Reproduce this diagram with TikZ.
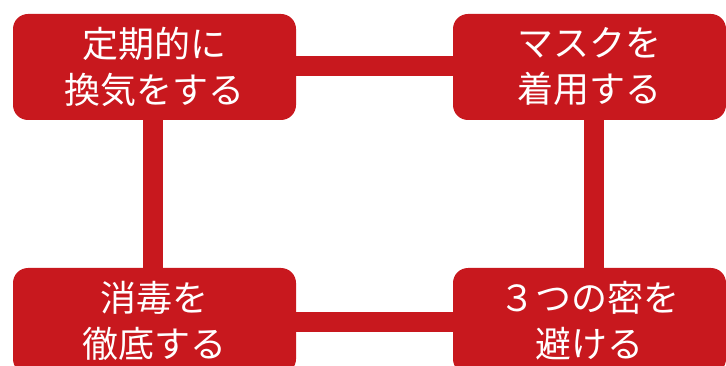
\documentclass[tikz,border=0pt]{standalone}
\usepackage{fontspec}
\newfontfamily\jpfont{Noto Sans CJK JP}
\usetikzlibrary{backgrounds}
\definecolor{boxred}{RGB}{200,24,30}
\tikzset{
  redbox/.style={fill=boxred, rounded corners=15pt, inner sep=0pt,
    text=white, align=center, font=\jpfont\fontsize{36pt}{46pt}\selectfont},
  link/.style={draw=boxred, line width=20pt}
}
\begin{document}
\begin{tikzpicture}[x=1pt,y=-1pt]
\useasboundingbox (0,0) rectangle (726,366);
\clip (0,0) rectangle (726,366);
\node[redbox, minimum width=283pt, minimum height=106pt] (tl) at (154.5,67) {定期的に\\換気をする};
\node[redbox, minimum width=273pt, minimum height=106pt] (tr) at (589.5,67) {マスクを\\着用する};
\node[redbox, minimum width=283pt, minimum height=106pt] (bl) at (154.5,321) {消毒を\\徹底する};
\node[redbox, minimum width=273pt, minimum height=106pt] (br) at (589.5,321) {３つの密を\\避ける};
\begin{pgfonlayer}{background}
\draw[link] ([yshift=1pt]tl.center) -- ([yshift=1pt]tr.center);
\draw[link] ([xshift=-1.5pt]tl.center) -- ([xshift=-1.5pt]bl.center);
\draw[link] ([xshift=4.5pt]tr.center) -- ([xshift=4.5pt]br.center);
\draw[link] ([yshift=-1pt]bl.center) -- ([yshift=-1pt]br.center);
\end{pgfonlayer}
\end{tikzpicture}
\end{document}
